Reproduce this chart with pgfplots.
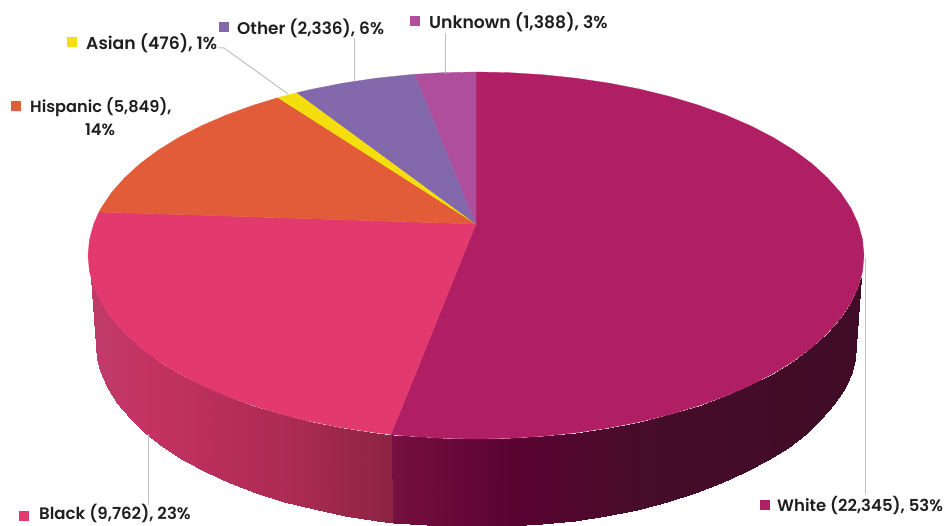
\documentclass[border=0pt]{standalone}
\usepackage{fontspec}
\setmainfont{Poppins SemiBold}
\usepackage{pgfplots}
\pgfplotsset{compat=1.18}
\definecolor{cWhite}{HTML}{B01F63}
\definecolor{cBlack}{HTML}{E23A6E}
\definecolor{cHisp}{HTML}{E25C3A}
\definecolor{cAsian}{HTML}{F4DE0E}
\definecolor{cOther}{HTML}{8369AC}
\definecolor{cUnk}{HTML}{AE4E9C}
\definecolor{cLead}{HTML}{BFBFBF}
\definecolor{cText}{HTML}{1F1F1F}
\definecolor{cJoin}{RGB}{118,16,64}
\tikzset{lab/.style={font=\fontsize{#1}{19}\selectfont, text=cText, inner sep=0pt}, lab/.default=16.2}
\begin{document}
\begin{tikzpicture}
\path[use as bounding box, clip] (0,0) rectangle (945pt,525pt);
\begin{axis}[
  at={(0,0)}, anchor=south west,
  scale only axis, width=945pt, height=525pt,
  xmin=0, xmax=945, ymin=0, ymax=525, zmin=-1, zmax=1,
  y dir=reverse, view={0}{90}, hide axis,
  colormap={side}{rgb255(91pt)=(190,60,105) rgb255(150pt)=(196,50,98) rgb255(300pt)=(170,42,82) rgb255(392pt)=(140,36,68) rgb255(393pt)=(118,16,64) rgb255(520pt)=(88,2,48) rgb255(640pt)=(70,12,42) rgb255(861pt)=(64,12,38)},
  point meta min=91, point meta max=861,
]
% join between the two walls
\addplot[fill=cJoin, draw=none] coordinates {(391.4,430)(394,430)(395,524)(392.4,523)} -- cycle;
% side wall, Black
\addplot3[surf, shader=interp, mesh/rows=2, mesh/cols=16, point meta=x] table {
91 278 0
93.9 287.4 0
101.2 303 0
111.4 318.3 0
124.4 333 0
140 347.25 0
158.2 360.8 0
178.8 373.5 0
201.6 385.3 0
226.6 396.1 0
253.4 405.8 0
282 414.4 0
312 421.8 0
343.3 427.9 0
375.6 432.7 0
391 434.5 0
97 359.1 0
100 370.2 0
107 386.5 0
117 402.6 0
130 418.3 0
145 432.6 0
163 446.6 0
183 459.5 0
205.5 471.7 0
230 482.8 0
256 492.7 0
284 501.5 0
314 509.3 0
345 515.6 0
377 520.6 0
392 522.5 0
};
% side wall, White
\addplot3[surf, shader=interp, mesh/rows=2, mesh/cols=21, point meta=x] table {
393 434.5 0
408.6 436.2 0
442.2 438.3 0
476 439 0
509.8 438.3 0
543.4 436.2 0
576.4 432.7 0
608.7 427.9 0
640 421.8 0
670 414.4 0
698.6 405.8 0
725.4 396.1 0
750.4 385.3 0
773.2 373.5 0
793.8 360.8 0
812 347.25 0
827.6 333 0
840.6 318.3 0
850.8 303 0
858.1 287.4 0
861 278 0
394 522.5 0
410 524.2 0
443 526.3 0
476 527 0
509 526.3 0
542 524.2 0
574.5 520.6 0
606 515.8 0
637 509.5 0
666.5 501.9 0
694.5 493.2 0
720.5 483.4 0
745 472.4 0
767.5 460.4 0
787.5 447.7 0
805.5 433.9 0
821 419.4 0
834 404 0
844.5 387.5 0
851.5 371.6 0
855 359.1 0
};
% top face
\addplot[fill=cWhite, draw=cWhite, line width=.3pt] coordinates {
(476,224)(476,72)(509.8,72.7)(543.4,74.8)(576.4,78.3)(608.7,83.1)(640,89.2)(670,96.6)(698.6,105.2)(725.4,114.9)(750.4,125.7)(773.2,137.5)(793.8,150.2)(812,163.75)(827.6,178)(840.6,192.7)(850.8,208)(858.1,223.6)(862.5,239.5)(864,255.5)(862.5,271.5)(858.1,287.4)(850.8,303)(840.6,318.3)(827.6,333)(812,347.25)(793.8,360.8)(773.2,373.5)(750.4,385.3)(725.4,396.1)(698.6,405.8)(670,414.4)(640,421.8)(608.7,427.9)(576.4,432.7)(543.4,436.2)(509.8,438.3)(476,439)(442.2,438.3)(408.6,436.2)(391,434.5)
} -- cycle;
\addplot[fill=cBlack, draw=cBlack, line width=.3pt] coordinates {
(476,224)(99,212)(93.9,223.6)(89.5,239.5)(88,255.5)(89.5,271.5)(93.9,287.4)(101.2,303)(111.4,318.3)(124.4,333)(140,347.25)(158.2,360.8)(178.8,373.5)(201.6,385.3)(226.6,396.1)(253.4,405.8)(282,414.4)(312,421.8)(343.3,427.9)(375.6,432.7)(391,434.5)
} -- cycle;
\addplot[fill=cHisp, draw=cHisp, line width=.3pt] coordinates {
(476,224)(278,97.7)(253.4,105.2)(226.6,114.9)(201.6,125.7)(178.8,137.5)(158.2,150.2)(140,163.75)(124.4,178)(111.4,192.7)(101.2,208)(99,212)
} -- cycle;
\addplot[fill=cAsian, draw=cAsian, line width=.3pt] coordinates {
(476,224)(297,92.7)(282,96.6)(278,97.7)
} -- cycle;
\addplot[fill=cOther, draw=cOther, line width=.3pt] coordinates {
(476,224)(415,74.3)(408.6,74.8)(375.6,78.3)(343.3,83.1)(312,89.2)(297,92.7)
} -- cycle;
\addplot[fill=cUnk, draw=cUnk, line width=.3pt] coordinates {
(476,224)(476,72)(442.2,72.7)(415,74.3)
} -- cycle;
% leader lines
\addplot[cLead, line width=1pt] coordinates {(865,258)(865,494)};
\addplot[cLead, line width=1pt] coordinates {(148,434)(148,505)};
\addplot[cLead, line width=1pt] coordinates {(354,38)(354,81)};
\addplot[cLead, line width=1pt] coordinates {(445,33)(445,74)};
\addplot[cLead, line width=1pt] coordinates {(218,48)(224,48)(288,94)};
% legend keys
\addplot[only marks, mark=square*, mark size=4.6pt, color=cWhite] coordinates {(765,505)};
\addplot[only marks, mark=square*, mark size=4.6pt, color=cBlack] coordinates {(24,516)};
\addplot[only marks, mark=square*, mark size=4.6pt, color=cHisp] coordinates {(16,106)};
\addplot[only marks, mark=square*, mark size=4.6pt, color=cAsian] coordinates {(72,41.5)};
\addplot[only marks, mark=square*, mark size=4.6pt, color=cOther] coordinates {(224,27)};
\addplot[only marks, mark=square*, mark size=4.6pt, color=cUnk] coordinates {(415,21)};
% labels
\node[lab=16.5, anchor=west] at (axis cs:777,505,0) {White (22,345), 53\%};
\node[lab=16.6, anchor=west] at (axis cs:39,513.5,0) {Black (9,762), 23\%};
\node[lab=16.2, anchor=west] at (axis cs:30,107,0) {Hispanic (5,849),};
\node[lab=16.2, anchor=center] at (axis cs:100,130,0) {14\%};
\node[lab=17.2, anchor=west] at (axis cs:86,43,0) {Asian (476), 1\%};
\node[lab=16.9, anchor=west] at (axis cs:237,28,0) {Other (2,336), 6\%};
\node[lab=17.2, anchor=west] at (axis cs:429,22,0) {Unknown (1,388), 3\%};
\end{axis}
\end{tikzpicture}
\end{document}
